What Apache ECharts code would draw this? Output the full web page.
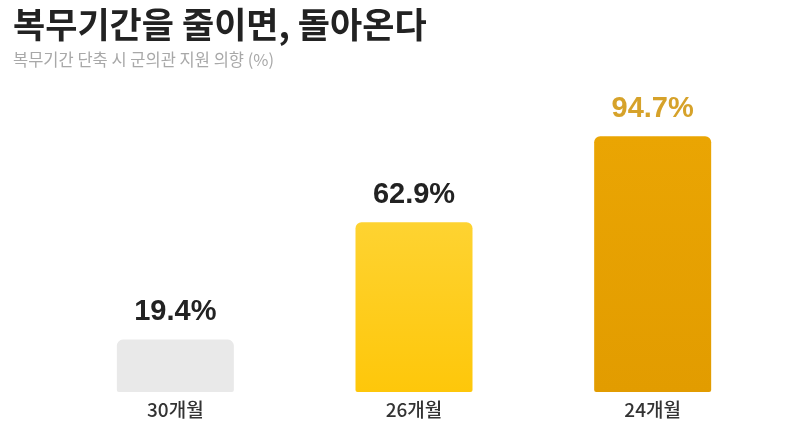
<!DOCTYPE html>
<html><head><meta charset="utf-8">
<script src="https://cdn.jsdelivr.net/npm/echarts@6/dist/echarts.min.js"></script>
<style>html,body{margin:0;padding:0;background:#fff}#c{width:787px;height:433px}</style>
</head><body><div id="c"></div>
<script>
const categories = ['30개월', '26개월', '24개월'];
const values = [19.4, 62.9, 94.7];
const labelColors = ['#222222', '#222222', '#d6a22a'];
const F = '"Noto Sans CJK KR","Noto Sans",sans-serif';
const N = '"Liberation Sans",Arial,sans-serif';
const barColors = [
  '#e9e9e9',
  new echarts.graphic.LinearGradient(0,0,0,1,[{offset:0,color:'#fed331'},{offset:1,color:'#fec70a'}]),
  new echarts.graphic.LinearGradient(0,0,0,1,[{offset:0,color:'#eaa503'},{offset:1,color:'#e29c00'}])
];
const chart = echarts.init(document.getElementById('c'));
chart.setOption({
  animation:false,
  title:{text:'복무기간을 줄이면, 돌아온다', subtext:'복무기간 단축 시 군의관 지원 의향 (%)', left:8, top:2,
    textStyle:{fontFamily:F, fontSize:35, fontWeight:'bold', color:'#222'},
    subtextStyle:{fontFamily:F, fontSize:16.5, color:'#a8a8a8'}, itemGap:9},
  grid:{left:56, right:15, top:122, bottom:41},
  xAxis:{type:'category', data:categories, axisLine:{show:false}, axisTick:{show:false},
    axisLabel:{fontFamily:F, fontSize:19, fontWeight:500, color:'#333', margin:8}},
  yAxis:{type:'value', min:0, max:100, show:false, splitLine:{show:false}},
  series:[{type:'bar', barWidth:117,
    data: values.map((v,i)=>({value:v, itemStyle:{color:barColors[i], borderRadius:[6,6,2,2]},
      label:{color:labelColors[i]}})),
    label:{show:true, position:'top', distance:13, formatter:p=>p.value.toFixed(1)+'%',
      fontFamily:N, fontSize:29, fontWeight:'bold'}
  }]
});
</script></body></html>
